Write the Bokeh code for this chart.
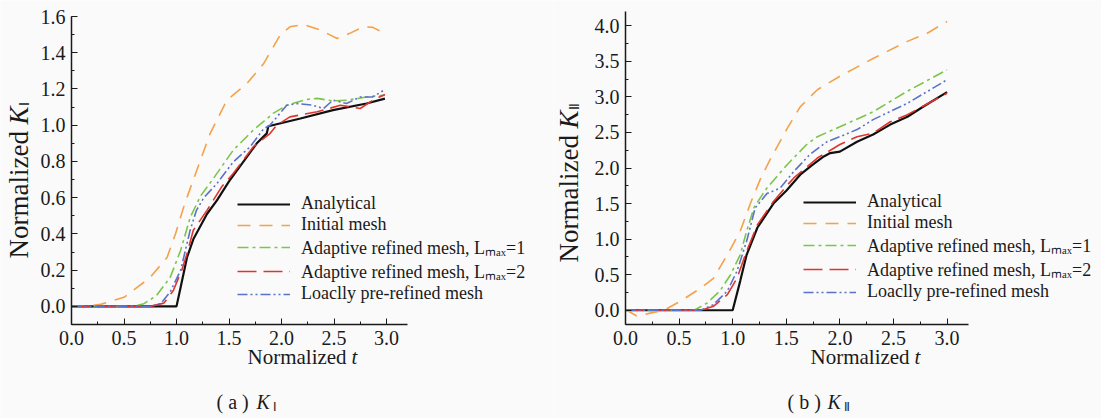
import math
from bokeh.plotting import figure
from bokeh.models import (Range1d, SingleIntervalTicker, PrintfTickFormatter,
                          Legend, LegendItem, Label)
from bokeh.layouts import row
from bokeh.embed import file_html
from bokeh.resources import INLINE

# ---------------- data: panel (a) K_I ----------------
t_ana_1 = [0, 1.0, 1.04, 1.1, 1.16, 1.29, 1.385, 1.5, 1.765, 1.86, 1.875, 2.18, 2.49, 2.81, 2.985]
k_ana_1 = [0, 0, 0.107, 0.27, 0.37, 0.51, 0.585, 0.69, 0.90, 0.955, 0.994, 1.037, 1.083, 1.12, 1.147]

t_ini_1 = [0, 0.15, 0.276, 0.5, 0.75, 0.91, 0.99, 1.08, 1.23, 1.32, 1.48, 1.67, 1.83, 1.99, 2.08, 2.21,
           2.37, 2.53, 2.65, 2.78, 2.87, 2.985]
k_ini_1 = [0, 0.002, 0.011, 0.05, 0.16, 0.27, 0.40, 0.57, 0.81, 0.954, 1.138, 1.23, 1.34, 1.50, 1.543,
           1.556, 1.525, 1.479, 1.507, 1.543, 1.54, 1.507]

t_ad1_1 = [0, 0.59, 0.69, 0.81, 0.94, 1.04, 1.13, 1.23, 1.35, 1.54, 1.73, 1.92, 2.05, 2.24, 2.34, 2.49,
           2.62, 2.81, 2.985]
k_ad1_1 = [0, 0, 0.015, 0.06, 0.16, 0.31, 0.49, 0.61, 0.705, 0.862, 0.972, 1.065, 1.11, 1.142, 1.148,
           1.134, 1.138, 1.156, 1.166]

t_ad2_1 = [0, 0.75, 0.88, 0.97, 1.05, 1.1, 1.16, 1.29, 1.43, 1.54, 1.73, 1.89, 1.955, 2.08, 2.34, 2.56,
           2.75, 2.87, 2.985]
k_ad2_1 = [0, 0, 0.018, 0.088, 0.2, 0.29, 0.42, 0.53, 0.66, 0.733, 0.88, 0.954, 1.0, 1.046, 1.074, 1.11,
           1.092, 1.138, 1.17]

t_pre_1 = [0, 0.75, 0.85, 0.94, 1.04, 1.13, 1.19, 1.26, 1.385, 1.54, 1.70, 1.83, 1.89, 2.05, 2.15, 2.30,
           2.40, 2.49, 2.62, 2.75, 2.87, 2.985]
k_pre_1 = [0, 0, 0.015, 0.08, 0.2, 0.42, 0.53, 0.60, 0.678, 0.797, 0.88, 0.98, 1.0, 1.11, 1.12, 1.11,
           1.092, 1.138, 1.12, 1.156, 1.156, 1.197]

# ---------------- data: panel (b) K_II ----------------
t_ana_2 = [0, 1.0, 1.07, 1.13, 1.23, 1.38, 1.50, 1.63, 1.75, 1.85, 1.91, 2.0, 2.16, 2.31, 2.47, 2.63, 2.78, 3.0]
k_ana_2 = [0, 0, 0.41, 0.78, 1.16, 1.50, 1.68, 1.906, 2.05, 2.163, 2.21, 2.23, 2.37, 2.47, 2.61, 2.72,
           2.865, 3.066]

t_ini_2 = [0, 0.11, 0.23, 0.36, 0.51, 0.70, 0.82, 0.95, 1.07, 1.165, 1.26, 1.35, 1.51, 1.63, 1.79, 2.0,
           2.31, 2.63, 2.81, 3.0]
k_ini_2 = [0.01, -0.084, -0.04, 0.0, 0.126, 0.31, 0.45, 0.78, 1.11, 1.50, 1.85, 2.12, 2.56, 2.86, 3.10,
           3.29, 3.54, 3.78, 3.89, 4.06]

t_ad1_2 = [0, 0.64, 0.76, 0.88, 0.98, 1.07, 1.13, 1.20, 1.32, 1.51, 1.69, 1.79, 2.0, 2.31, 2.63, 3.0]
k_ad1_2 = [0, 0, 0.10, 0.27, 0.50, 0.78, 1.11, 1.45, 1.72, 2.05, 2.33, 2.44, 2.58, 2.79, 3.08, 3.38]

t_ad2_2 = [0, 0.70, 0.82, 0.95, 1.04, 1.13, 1.23, 1.38, 1.51, 1.57, 1.79, 2.0, 2.16, 2.31, 2.47, 2.63, 3.0]
k_ad2_2 = [0, 0, 0.056, 0.22, 0.45, 0.83, 1.20, 1.53, 1.76, 1.86, 2.14, 2.33, 2.44, 2.49, 2.65, 2.75, 3.05]

t_pre_2 = [0, 0.70, 0.82, 0.95, 1.04, 1.13, 1.21, 1.32, 1.445, 1.57, 1.72, 1.88, 2.0, 2.16, 2.31, 2.63, 3.0]
k_pre_2 = [0, 0, 0.08, 0.27, 0.55, 0.97, 1.44, 1.64, 1.72, 1.95, 2.19, 2.37, 2.44, 2.54, 2.68, 2.91, 3.24]

legend_labels = ["Analytical", "Initial mesh", "Adaptive refined mesh, L\u2098\u2090\u2093=1",
                 "Adaptive refined mesh, L\u2098\u2090\u2093=2", "Loaclly pre-refined mesh"]

x_axis_range = (0.0, 3.2)
y_axis_range_1 = (-0.1, 1.6)
y_axis_range_2 = (-0.2, 4.2)

BG = "#fafafa"
FONT = "Liberation Serif"
INK = "#1a1a1a"
H = 418

STYLES = [
    dict(color="#111111", line_width=2.2, line_dash="solid"),
    dict(color="#f4a24a", line_width=1.6, line_dash="13 9"),
    dict(color="#7cc54a", line_width=1.6, line_dash="11 4 3 4"),
    dict(color="#e0352f", line_width=1.6, line_dash="19 7"),
    dict(color="#5b72c9", line_width=1.6, line_dash="10 3 2 3 2 3"),
]


def make_panel(series, yr, yint, fig_left, width, ax_x0, ax_x1, ax_y0, ax_y1,
               leg_xy, ylab, xlab, cap, cap_text, sub_text):
    # ax_x0/ax_x1: page pixel x of t=0 and t=3.2 ; ax_y0/ax_y1: page pixel y of yr[0] and yr[1]
    xs = (x_axis_range[1] - x_axis_range[0]) / (ax_x1 - ax_x0)
    ys = (yr[1] - yr[0]) / (ax_y0 - ax_y1)
    x_lo = x_axis_range[0] - (ax_x0 - fig_left) * xs
    x_hi = x_axis_range[0] + (fig_left + width - ax_x0) * xs
    y_hi = yr[1] + ax_y1 * ys
    y_lo = yr[0] - (H - ax_y0) * ys
    p = figure(output_backend="svg", toolbar_location=None,
               x_range=Range1d(x_lo, x_hi), y_range=Range1d(y_lo, y_hi),
               width=width, height=H, min_border=0)
    p.min_border_left = p.min_border_right = p.min_border_top = p.min_border_bottom = 0
    p.background_fill_color = BG
    p.border_fill_color = BG
    p.outline_line_color = None
    p.xgrid.visible = False
    p.ygrid.visible = False
    p.xaxis.fixed_location = yr[0]
    p.xaxis.bounds = x_axis_range
    p.yaxis.fixed_location = x_axis_range[0]
    p.yaxis.bounds = yr
    p.xaxis.ticker = SingleIntervalTicker(interval=0.5, num_minor_ticks=2)
    p.yaxis.ticker = SingleIntervalTicker(interval=yint, num_minor_ticks=2)
    for ax in (p.xaxis, p.yaxis):
        ax.formatter = PrintfTickFormatter(format="%.1f")
        ax.major_label_text_font = FONT
        ax.major_label_text_font_size = "20px"
        ax.major_label_text_color = INK
        ax.axis_line_color = INK
        ax.axis_line_width = 1.5
        ax.major_tick_line_color = INK
        ax.minor_tick_line_color = INK
        ax.major_tick_in = 6
        ax.major_tick_out = 0
        ax.minor_tick_in = 3
        ax.minor_tick_out = 0
        ax.major_label_standoff = 6
    renderers = []
    for (t, k), st in zip(series, STYLES):
        r = p.line(t, k, line_color=st["color"], line_width=st["line_width"],
                   line_dash=st["line_dash"])
        renderers.append(r)
    items = [LegendItem(label=lab, renderers=[r]) for lab, r in zip(legend_labels, renderers)]
    lx, ly = leg_xy
    leg = Legend(items=items, location=(lx - fig_left, H - ly), glyph_width=53, glyph_height=20,
                 label_height=20, spacing=0, padding=0, margin=0, label_standoff=11,
                 background_fill_alpha=0, border_line_alpha=0,
                 label_text_font=FONT, label_text_font_size="18px",
                 label_text_color=INK)
    p.add_layout(leg)

    def lab(px, py, text, size, italic=False, angle=0.0):
        p.add_layout(Label(x=px - fig_left, y=H - py, x_units="screen", y_units="screen",
                           text=text, angle=angle, text_align="left", text_baseline="middle",
                           text_font=FONT, text_font_size=size, text_color=INK,
                           text_font_style="italic" if italic else "normal"))

    # y-axis title, rotated and composed: Normalized K_sub
    yx, yy = ylab
    lab(yx, yy, "Normalized", "27px", angle=math.pi / 2)
    lab(yx, yy - 134, "K", "27px", italic=True, angle=math.pi / 2)
    lab(yx + 6, yy - 153, sub_text, "14px", angle=math.pi / 2)
    # x-axis title
    xx, xy = xlab
    lab(xx, xy, "Normalized", "21px")
    lab(xx + 104, xy, "t", "21px", italic=True)
    # caption
    cx, cy = cap
    lab(cx, cy, cap_text, "20px")
    lab(cx + 40, cy, "K", "20px", italic=True)
    lab(cx + 56, cy + 5, sub_text, "12px")
    return p


series1 = [(t_ana_1, k_ana_1), (t_ini_1, k_ini_1), (t_ad1_1, k_ad1_1), (t_ad2_1, k_ad2_1), (t_pre_1, k_pre_1)]
series2 = [(t_ana_2, k_ana_2), (t_ini_2, k_ini_2), (t_ad1_2, k_ad1_2), (t_ad2_2, k_ad2_2), (t_pre_2, k_pre_2)]

p1 = make_panel(series1, y_axis_range_1, 0.2, fig_left=0, width=553,
                ax_x0=71, ax_x1=407, ax_y0=324, ax_y1=16,
                leg_xy=(237, 304), ylab=(18, 258), xlab=(247, 356), cap=(216, 401),
                cap_text="( a )", sub_text="\u2160")
p2 = make_panel(series2, y_axis_range_2, 0.5, fig_left=553, width=548,
                ax_x0=625, ax_x1=968, ax_y0=324, ax_y1=11,
                leg_xy=(803, 302), ylab=(568, 262), xlab=(810, 356), cap=(787, 401),
                cap_text="( b )", sub_text="\u2161")

layout = row(p1, p2)
open("out.html", "w").write(file_html(layout, INLINE))
